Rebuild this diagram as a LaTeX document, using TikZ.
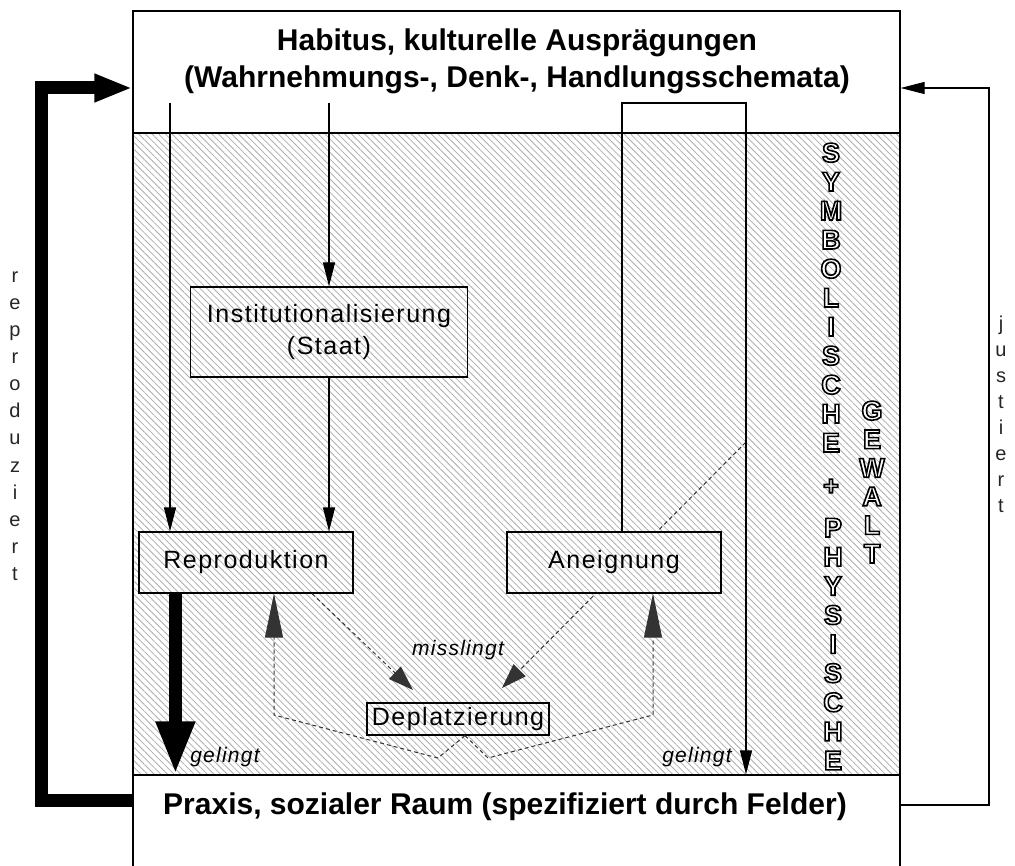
\documentclass[tikz,border=0pt]{standalone}
\usepackage{fontspec}
\setmainfont{Liberation Sans}
\newfontfamily\lblfont[LetterSpace=6]{Liberation Sans}
\usetikzlibrary{arrows.meta, patterns.meta, positioning, calc}
% outlined glyphs: fill white, stroke black
\newcommand\hollowtxt[1]{\special{pdf:literal direct 2 Tr 1.6 w 0 G}#1\special{pdf:literal direct 0 Tr}}
\tikzset{
  >=Stealth,
  panel/.style    = {draw, line width=1.2pt, minimum width=767pt, inner sep=0pt},
  hatch/.style    = {pattern={Lines[angle=-45, distance=4.7pt, line width=0.8pt]},
                     pattern color=gray!65},
  box/.style      = {draw, line width=1.2pt, preaction={fill=white}, hatch,
                     inner sep=0pt, align=center,
                     font=\lblfont\fontsize{25}{32}\selectfont},
  title/.style    = {font=\fontsize{30}{37}\selectfont\bfseries,
                     align=center, inner sep=0pt},
  cue/.style      = {font=\lblfont\itshape\fontsize{21}{21}\selectfont,
                     inner sep=0pt},
  vletter/.style  = {font=\fontsize{20}{20}\selectfont, anchor=base,
                     inner sep=0pt, black!85},
  hollow/.style   = {font=\fontsize{27}{27}\selectfont\bfseries, anchor=base,
                     inner sep=0pt, text=white},
  arrow/.style    = {-{Triangle[length=24pt, width=12pt]}, line width=1.2pt},
  dasharrow/.style = {-{Triangle[length=25pt, width=17pt]}, line width=1pt,
                     black!80, dash pattern=on 4pt off 3pt},
  bigdash/.style  = {dasharrow, -{Triangle[length=44pt, width=18pt]}},
  fat/.style      = {-{Triangle[length=53pt, width=36pt]}, line width=13pt},
  fatloop/.style  = {-{Triangle[length=38pt, width=26pt]}, line width=13pt},
}

\begin{document}
\begin{tikzpicture}[x=1pt, y=-1pt]
  \useasboundingbox (0,0) rectangle (1015,866);

  % =====================================================================
  % FRAME: habitus (top), field (hatched), praxis (bottom)
  % =====================================================================
  \node[panel, minimum height=122pt]        (upper) at (516.5,72)    {};
  \node[panel, hatch, minimum height=642pt] (field) at (516.5,454)   {};
  \node[panel, minimum height=95pt]         (lower) at (516.5,822.5) {};

  \node[title] (habitus) at (517,61)
    {Habitus, kulturelle Ausprägungen\\(Wahrnehmungs-, Denk-, Handlungsschemata)};
  \node[title] (praxis) at (505,807)
    {Praxis, sozialer Raum (spezifiziert durch Felder)};

  % dashed cut runs behind Aneignung, so it goes before the boxes
  \coordinate (cut) at (746,442);
  \coordinate (dR)  at (502,688);
  \draw[dasharrow] (cut) -- (dR);

  % =====================================================================
  % BOXES
  % =====================================================================
  \node[box, minimum width=277pt, minimum height=90pt] (inst)    at (329,332)
    {Institutionalisierung\\(Staat)};
  \node[box, minimum width=214pt, minimum height=61pt] (repro)   at (246,562.5)
    {Reproduktion};
  \node[box, minimum width=214pt, minimum height=61pt] (aneig)   at (614,562.5)
    {Aneignung};
  \node[box, minimum width=182pt, minimum height=32pt] (deplatz) at (458,719)
    {Deplatzierung};

  % solid connectors
  \coordinate (hL) at (170,103);
  \coordinate (hM) at (329,103);
  \draw[arrow] (hL) -- (hL |- repro.north);
  \draw[arrow] (hM) -- (inst.north);
  \draw[arrow] (inst.south) -- (inst.south |- repro.north);

  \coordinate (aT) at (622,103);
  \coordinate (aR) at (746,103);
  \draw[arrow] ($(aneig.north)+(8,0)$) -- (aT) -- (aR) -- (aR |- lower.north);

  \coordinate (fatS) at ($(repro.south west)+(37,0)$);
  \draw[fat] (fatS) -- (fatS |- lower.north);

  % dashed connectors
  \coordinate (dL) at (413,690);
  \draw[dasharrow] ($(repro.south)+(66,0)$) -- (dL);

  \coordinate (vtop) at ($(deplatz.south)+(7,0)$);
  \coordinate (vl) at (438,758);
  \coordinate (vr) at (488,758);
  \coordinate (kl) at (274,715);
  \coordinate (kr) at (653,715);
  \draw[bigdash] (vtop) -- (vl) -- (kl) -- (kl |- repro.south);
  \draw[bigdash] (vtop) -- (vr) -- (kr) -- (kr |- aneig.south);

  \node[cue] (miss) at (458,650) {misslingt};
  \node[cue] (okL)  at (225,757) {gelingt};
  \node[cue] (okR)  at (697,757) {gelingt};

  % =====================================================================
  % OUTER LOOPS: reproduziert (left), justiert (right)
  % =====================================================================
  \coordinate (rB) at (41.5,800);
  \coordinate (rT) at (41.5,88);
  \draw[fatloop] (lower.west |- rB) -- (rB) -- (rT) -- (upper.west |- rT);

  \coordinate (jB) at (989,805);
  \coordinate (jT) at (989,88);
  \draw[arrow] (lower.east |- jB) -- (jB) -- (jT) -- (upper.east |- jT);

  \foreach \l [count=\i from 0] in {r,e,p,r,o,d,u,z,i,e,r,t}
    \node[vletter] (rep\i) at (15,{283+27*\i}) {\l};
  \foreach \l [count=\i from 0] in {j,u,s,t,i,e,r,t}
    \node[vletter] (jus\i) at (1001,{331+25.9*\i}) {\l};

  % =====================================================================
  % SYMBOLISCHE + PHYSISCHE GEWALT
  % =====================================================================
  \foreach \l [count=\i from 0] in {S,Y,M,B,O,L,I,S,C,H,E}
    \node[hollow] (sym\i) at (831,{162+29*\i}) {\hollowtxt{\l}};
  \node[hollow, anchor=center] (plus) at (831,487) {\hollowtxt{+}};
  \foreach \l [count=\i from 0] in {P,H,Y,S,I,S,C,H,E}
    \node[hollow] (phy\i) at (833,{537+29.1*\i}) {\hollowtxt{\l}};
  \foreach \l [count=\i from 0] in {G,E,W,A,L,T}
    \node[hollow] (gew\i) at (872,{420+28.6*\i}) {\hollowtxt{\l}};

\end{tikzpicture}
\end{document}
